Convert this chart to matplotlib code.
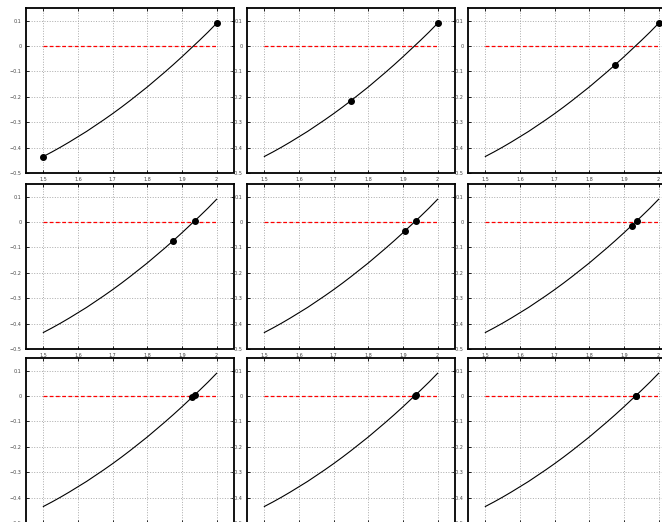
import numpy as np
import matplotlib
matplotlib.use("Agg")
import matplotlib.pyplot as plt

# curve (same in every panel)
curve_x = [1.500, 1.525, 1.550, 1.575, 1.600, 1.625, 1.650, 1.675, 1.700, 1.725,
           1.750, 1.775, 1.800, 1.825, 1.850, 1.875, 1.900, 1.925, 1.950, 1.975, 2.000]
curve_y = [-0.435, -0.417, -0.398, -0.378, -0.357, -0.336, -0.313, -0.290, -0.266, -0.241,
           -0.215, -0.188, -0.161, -0.132, -0.103, -0.073, -0.042, -0.010, 0.022, 0.055, 0.090]

# bracket endpoints per panel (bisection steps)
left_x  = [1.5, 1.75, 1.875, 1.875, 1.90625, 1.921875, 1.9296875, 1.93359375, 1.93359375]
left_y  = [-0.435, -0.215, -0.073, -0.073, -0.034, -0.015, -0.005, -0.001, -0.001]
right_x = [2.0, 2.0, 2.0, 1.9375, 1.9375, 1.9375, 1.9375, 1.9375, 1.935546875]
right_y = [0.090, 0.090, 0.090, 0.006, 0.006, 0.006, 0.006, 0.006, 0.001]

xticks = [1.5, 1.6, 1.7, 1.8, 1.9, 2.0]
xticklabels = ["1.5", "1.6", "1.7", "1.8", "1.9", "2"]
yticks = [-0.5, -0.4, -0.3, -0.2, -0.1, 0.0, 0.1]
yticklabels = ["\u22120.5", "\u22120.4", "\u22120.3", "\u22120.2", "\u22120.1", "0", "0.1"]

W, H = 662, 522
fig = plt.figure(figsize=(W / 100, H / 100), dpi=100)

# axes boxes in pixels; the right column and bottom row run past the edge
col_left = [26, 247, 468]
row_top = [8, 184, 358]
aw, ah = 208, 165

for i in range(9):
    r, c = divmod(i, 3)
    ax = fig.add_axes([col_left[c] / W, 1 - (row_top[r] + ah) / H, aw / W, ah / H])
    ax.plot([1.5, 2.0], [0, 0], color="red", linestyle="--", linewidth=0.9, dashes=(3, 2))
    ax.plot(curve_x, curve_y, color="black", linewidth=0.8)
    ax.plot([left_x[i], right_x[i]], [left_y[i], right_y[i]], linestyle="none",
            marker="o", markersize=4.0, color="black")
    ax.set_xlim(1.45, 2.05)
    ax.set_ylim(-0.5, 0.15)
    ax.set_xticks(xticks)
    ax.set_xticklabels(xticklabels)
    ax.set_yticks(yticks)
    ax.set_yticklabels(yticklabels)
    ax.tick_params(direction="in", length=2, width=0.6, labelsize=3.5,
                   labelcolor="#444444", top=True, right=True, pad=3)
    ax.grid(True, linestyle=":", color="#aaaaaa", linewidth=0.7)
    for s in ax.spines.values():
        s.set_linewidth(1.3)

fig.savefig("out.png", dpi=100)
